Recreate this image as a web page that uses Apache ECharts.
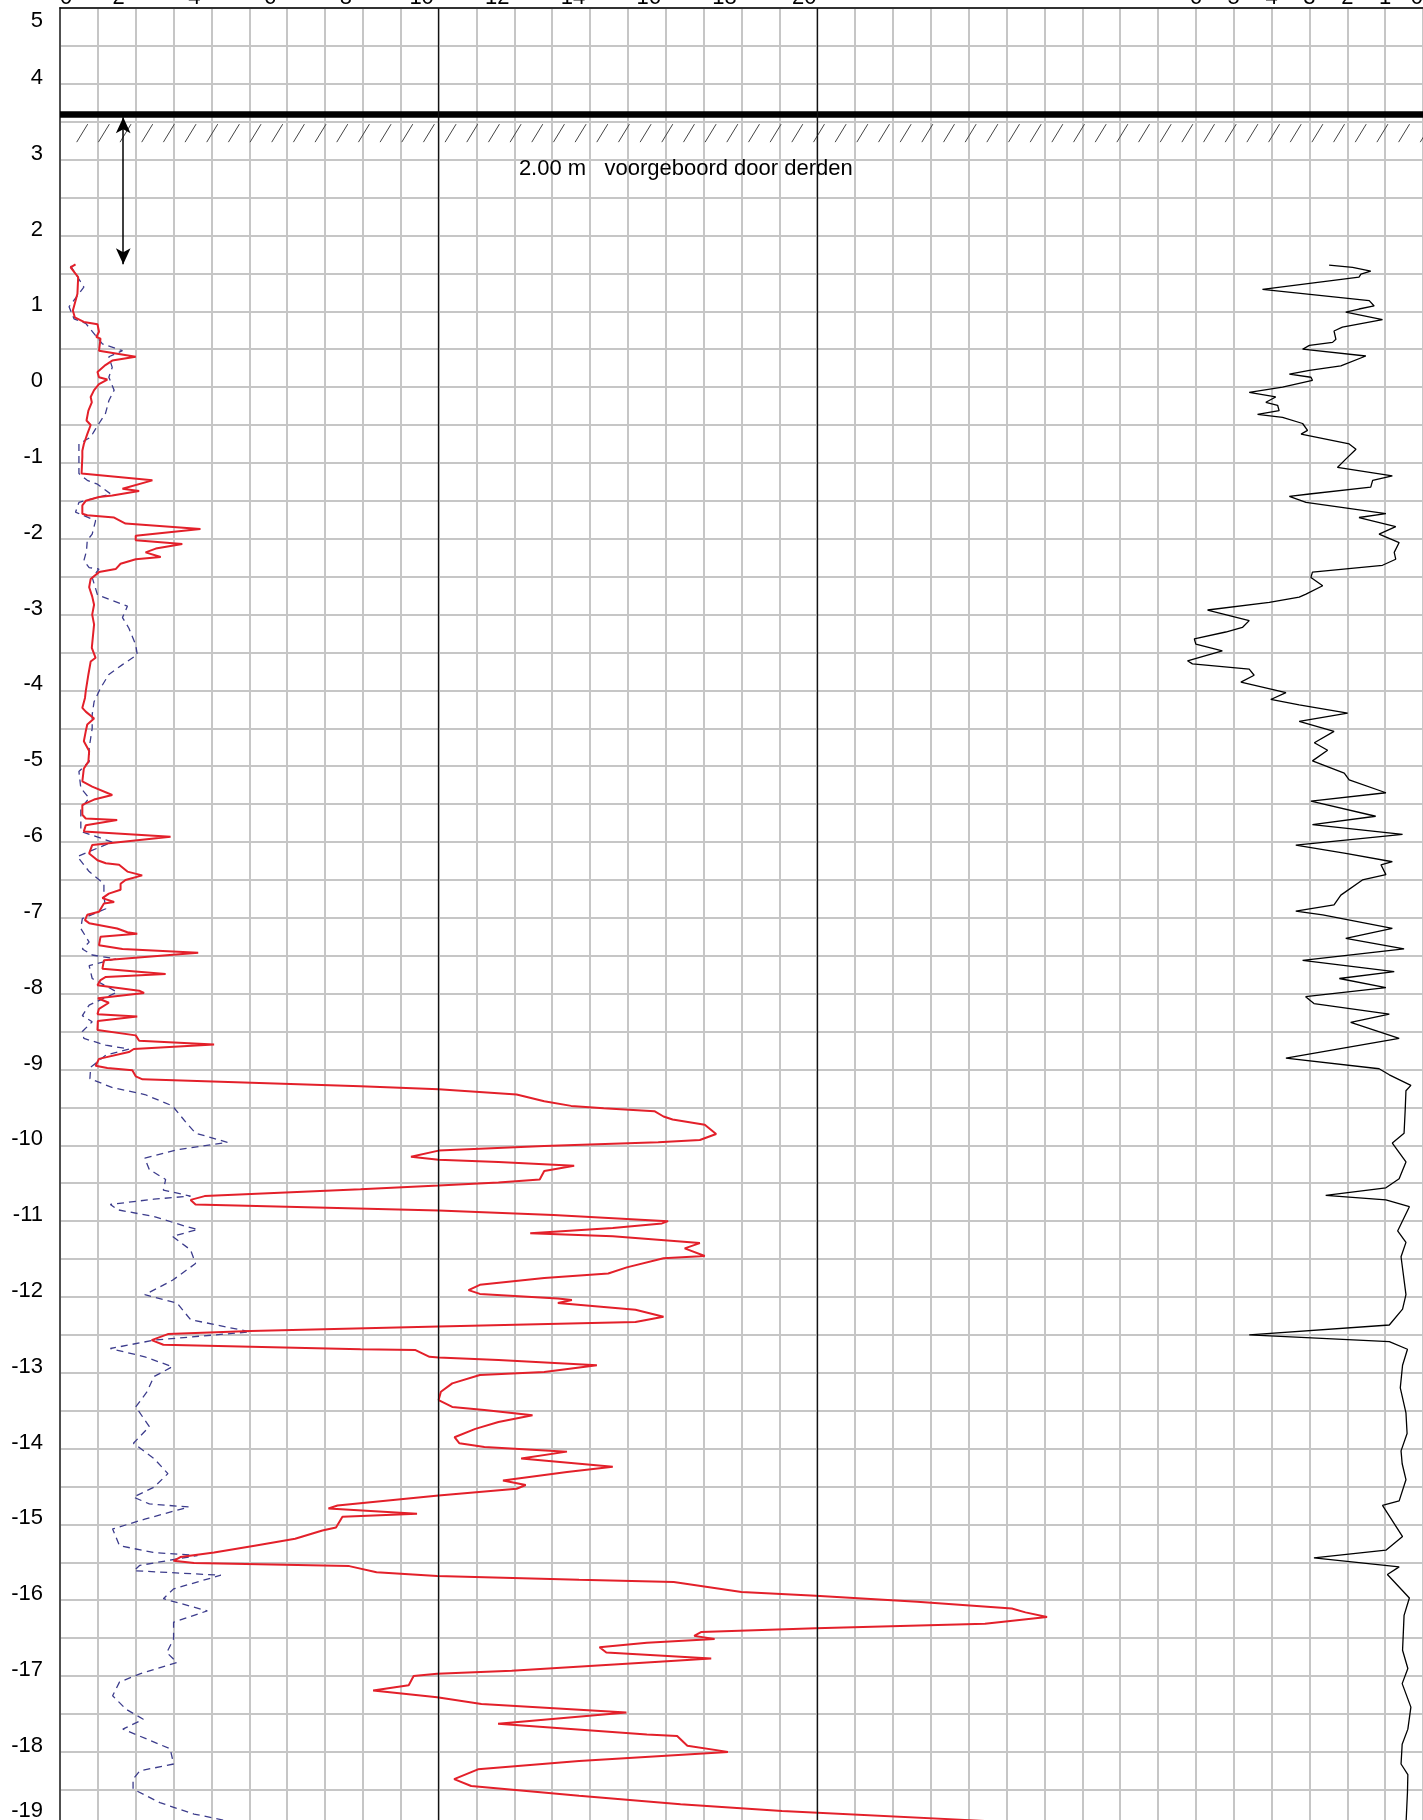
<!DOCTYPE html>
<html>
<head>
<meta charset="utf-8">
<script src="https://cdn.jsdelivr.net/npm/echarts@6/dist/echarts.min.js"></script>
<style>
html,body{margin:0;padding:0;background:#fff;}
#chart{width:1423px;height:1820px;}
</style>
</head>
<body>
<div id="chart"></div>
<script>
// ---- tick labels ----
const depthTicks = [5,4,3,2,1,0,-1,-2,-3,-4,-5,-6,-7,-8,-9,-10,-11,-12,-13,-14,-15,-16,-17,-18,-19];
const qcTicks = [0,2,4,6,8,10,12,14,16,18,20];
const rfTicks = [0,1,2,3,4,5,6];

// ---- annotations ----
const groundLevel = 3.6;
const preDrillTop = 3.56;
const preDrillBottom = 1.62;
const preDrillX = 1.67;
const preDrillText = '2.00 m   voorgeboord door derden';
const preDrillTextPos = [12.12, 2.875];
const refLinesQc = [10, 20];

// ---- cone resistance qc (red) ----
const qcDepth = [1.62,1.58,1.45,1.23,1.01,0.92,0.86,0.83,0.73,0.66,0.64,0.48,0.40,0.35,0.29,0.20,0.13,0.10,0.04,-0.04,-0.13,-0.20,-0.31,-0.44,-0.50,-0.62,-0.75,-0.84,-0.92,-1.14,-1.23,-1.34,-1.37,-1.43,-1.45,-1.50,-1.56,-1.67,-1.69,-1.72,-1.80,-1.87,-1.96,-2.02,-2.07,-2.13,-2.18,-2.24,-2.27,-2.33,-2.40,-2.44,-2.53,-2.64,-2.76,-2.87,-3.0,-3.13,-3.44,-3.57,-3.62,-3.79,-4.01,-4.10,-4.23,-4.28,-4.37,-4.45,-4.54,-4.67,-4.80,-4.94,-5.03,-5.20,-5.27,-5.38,-5.44,-5.51,-5.64,-5.69,-5.71,-5.78,-5.86,-5.93,-6.04,-6.15,-6.24,-6.28,-6.30,-6.39,-6.44,-6.50,-6.55,-6.63,-6.68,-6.74,-6.79,-6.81,-6.92,-6.96,-7.03,-7.07,-7.14,-7.19,-7.21,-7.25,-7.36,-7.41,-7.46,-7.56,-7.67,-7.74,-7.78,-7.82,-7.89,-7.96,-7.99,-8.06,-8.12,-8.20,-8.27,-8.30,-8.36,-8.48,-8.55,-8.62,-8.67,-8.73,-8.77,-8.86,-8.95,-8.98,-9.01,-9.09,-9.13,-9.22,-9.26,-9.33,-9.42,-9.48,-9.51,-9.55,-9.62,-9.66,-9.73,-9.85,-9.93,-9.96,-10.01,-10.07,-10.15,-10.19,-10.22,-10.27,-10.34,-10.45,-10.49,-10.53,-10.58,-10.67,-10.72,-10.78,-10.86,-10.92,-11.0,-11.03,-11.09,-11.16,-11.20,-11.29,-11.36,-11.46,-11.49,-11.61,-11.69,-11.75,-11.84,-11.91,-11.96,-12.02,-12.04,-12.08,-12.17,-12.26,-12.33,-12.39,-12.45,-12.49,-12.57,-12.63,-12.69,-12.70,-12.79,-12.80,-12.83,-12.90,-12.99,-13.03,-13.14,-13.25,-13.36,-13.45,-13.49,-13.56,-13.65,-13.74,-13.85,-13.93,-13.98,-14.04,-14.13,-14.24,-14.31,-14.42,-14.48,-14.53,-14.62,-14.75,-14.79,-14.86,-14.90,-15.04,-15.08,-15.19,-15.28,-15.37,-15.43,-15.48,-15.51,-15.55,-15.63,-15.68,-15.73,-15.76,-15.89,-15.94,-16.02,-16.11,-16.16,-16.22,-16.31,-16.37,-16.42,-16.47,-16.51,-16.56,-16.62,-16.69,-16.77,-16.82,-16.93,-16.97,-17.0,-17.12,-17.19,-17.28,-17.37,-17.48,-17.63,-17.77,-17.79,-17.92,-18.0,-18.12,-18.23,-18.36,-18.45,-18.58,-18.69,-18.78,-18.91];
const qcValue = [0.41,0.28,0.48,0.46,0.34,0.39,0.63,0.99,1.03,0.96,1.07,1.03,2.0,1.38,1.2,0.99,1.03,1.25,1.03,0.9,0.81,0.84,0.75,0.70,0.81,0.72,0.63,0.59,0.59,0.57,2.44,1.65,2.09,1.38,1.03,0.68,0.59,0.59,0.72,1.43,1.73,3.71,2.0,2.0,3.23,2.53,2.26,2.66,2.0,1.6,1.47,1.03,0.81,0.77,0.85,0.9,0.85,0.9,0.84,0.94,0.81,0.75,0.68,0.66,0.59,0.68,0.9,0.72,0.68,0.63,0.77,0.75,0.63,0.59,0.85,1.38,0.9,0.59,0.59,0.68,1.51,0.68,0.63,2.92,0.85,0.77,0.99,1.21,1.56,1.78,2.17,1.73,1.6,1.6,1.29,1.12,1.43,1.16,1.03,0.72,0.66,0.77,1.51,1.78,2.04,1.07,1.03,1.65,3.65,1.16,1.12,2.79,1.21,1.07,0.99,2.09,2.22,1.0,1.29,1.03,0.99,2.04,1.0,0.99,2.0,2.09,4.07,1.95,1.82,1.03,0.94,1.25,1.91,2.0,2.18,7.94,10.0,12.06,12.79,13.5,14.36,15.7,15.94,16.18,17.03,17.33,16.9,15.8,12.79,10.0,9.27,10.0,11.58,13.58,12.79,12.67,11.58,10.0,7.94,3.82,3.45,3.58,10.0,13.03,16.06,15.9,14.6,12.42,14.6,16.9,16.5,17.03,15.94,14.97,14.48,12.79,11.09,10.79,11.09,13.15,13.52,13.15,15.2,15.94,15.2,10.0,5.03,2.85,2.42,2.73,7.94,9.39,9.76,10.0,11.58,14.18,12.79,11.09,10.36,10.06,10.0,10.36,11.21,12.48,11.58,10.97,10.42,10.55,11.21,13.39,12.18,14.6,13.39,11.7,12.3,12.06,10.0,7.33,7.09,9.43,7.46,7.29,6.93,6.21,5.14,4.07,3.18,3.0,3.54,7.64,8.36,9.96,13.71,16.21,18.0,19.96,22.64,25.14,25.5,26.07,24.43,19.96,16.93,16.75,17.29,15.5,14.25,14.43,17.2,15.5,11.93,9.96,9.34,9.21,8.27,9.96,11.13,14.96,11.57,15.5,16.3,16.57,17.64,13.71,11.04,10.41,10.86,13.71,16.39,19.07,24.43];

// ---- sleeve friction (blue dashed) ----
const fsDepth = [1.6,1.32,1.06,0.9,0.84,0.57,0.48,0.4,0.26,0.13,-0.04,-0.18,-0.35,-0.48,-0.55,-0.66,-0.75,-1.14,-1.23,-1.28,-1.41,-1.52,-1.65,-1.76,-1.94,-2.02,-2.16,-2.29,-2.38,-2.4,-2.51,-2.74,-2.89,-3.04,-3.18,-3.4,-3.53,-3.66,-3.79,-3.97,-4.15,-4.32,-4.5,-4.76,-4.94,-5.07,-5.29,-5.42,-5.56,-5.86,-6.0,-6.19,-6.39,-6.55,-6.72,-6.88,-7.01,-7.14,-7.32,-7.41,-7.49,-7.54,-7.63,-7.8,-7.98,-8.15,-8.29,-8.37,-8.5,-8.59,-8.68,-8.73,-8.81,-8.97,-9.12,-9.24,-9.33,-9.48,-9.7,-9.84,-9.96,-10.06,-10.17,-10.32,-10.45,-10.59,-10.67,-10.71,-10.78,-10.85,-10.94,-11.07,-11.11,-11.2,-11.38,-11.56,-11.78,-11.97,-12.08,-12.3,-12.46,-12.57,-12.68,-12.79,-12.92,-13.05,-13.25,-13.45,-13.71,-13.93,-14.13,-14.33,-14.51,-14.64,-14.73,-14.77,-14.93,-15.06,-15.28,-15.37,-15.41,-15.54,-15.61,-15.67,-15.85,-15.98,-16.14,-16.29,-16.51,-16.69,-16.82,-16.97,-17.08,-17.26,-17.44,-17.57,-17.7,-17.83,-17.96,-18.16,-18.25,-18.36,-18.49,-18.67,-18.82,-18.93];
const fsValue = [0.28,0.63,0.24,0.37,0.68,1.12,1.65,1.29,1.38,1.29,1.43,1.29,1.2,1.03,0.94,0.81,0.5,0.5,0.72,0.99,1.34,0.5,0.41,0.94,0.85,0.72,0.7,0.63,0.77,1.03,0.85,0.99,1.78,1.65,1.82,2.0,2.04,1.65,1.29,1.07,0.9,0.85,0.85,0.77,0.77,0.5,0.55,0.77,0.55,0.55,1.38,0.46,0.77,1.16,1.16,1.21,0.59,0.55,0.77,0.59,0.85,1.47,0.77,0.85,1.51,0.77,0.59,0.85,0.59,0.63,1.21,1.82,1.21,0.81,0.79,1.39,2.24,2.97,3.33,3.58,4.42,3.09,2.24,2.36,2.79,2.73,3.45,2.48,1.33,1.52,2.48,3.33,3.64,2.97,3.45,3.58,2.97,2.24,3.09,3.45,5.03,2.48,1.33,2.24,2.97,2.48,2.3,2.0,2.36,1.94,2.48,2.85,2.48,1.94,2.36,3.4,2.24,1.39,1.57,2.46,3.63,2.11,1.95,4.25,3.0,2.73,3.89,3.0,3.0,2.82,3.09,2.11,1.57,1.39,1.75,2.2,1.66,2.29,2.91,3.0,2.11,1.93,1.93,2.64,3.54,4.61];

// ---- friction ratio Rf (black, right) ----
const rfDepth = [1.61,1.58,1.53,1.49,1.45,1.29,1.14,1.07,1.03,0.99,0.89,0.79,0.74,0.63,0.59,0.55,0.5,0.41,0.28,0.22,0.17,0.13,0.09,0.0,-0.07,-0.13,-0.2,-0.24,-0.31,-0.36,-0.4,-0.48,-0.57,-0.62,-0.75,-0.82,-0.95,-1.06,-1.17,-1.23,-1.32,-1.41,-1.44,-1.52,-1.67,-1.72,-1.84,-1.94,-2.05,-2.18,-2.27,-2.35,-2.44,-2.51,-2.62,-2.73,-2.77,-2.84,-2.94,-3.08,-3.17,-3.23,-3.32,-3.39,-3.48,-3.61,-3.65,-3.72,-3.8,-3.89,-4.03,-4.12,-4.19,-4.3,-4.41,-4.54,-4.69,-4.79,-4.93,-5.09,-5.18,-5.35,-5.46,-5.66,-5.77,-5.9,-6.04,-6.15,-6.26,-6.3,-6.43,-6.5,-6.7,-6.83,-6.91,-6.96,-7.14,-7.27,-7.41,-7.56,-7.71,-7.8,-7.92,-8.04,-8.13,-8.27,-8.38,-8.59,-8.85,-8.99,-9.07,-9.21,-9.28,-9.53,-9.84,-9.97,-10.22,-10.44,-10.56,-10.66,-10.72,-10.81,-11.13,-11.28,-11.47,-11.97,-12.16,-12.37,-12.5,-12.59,-12.69,-12.9,-13.2,-13.53,-13.8,-14.03,-14.2,-14.41,-14.69,-14.75,-15.16,-15.34,-15.44,-15.56,-15.66,-15.97,-16.2,-16.66,-16.9,-17.1,-17.41,-17.7,-17.9,-18.16,-18.3,-18.53,-18.96];
const rfValue = [2.48,1.86,1.38,1.64,1.69,4.24,1.42,1.29,1.69,2.04,1.07,2.13,2.35,2.3,2.39,3.0,3.18,1.51,2.17,3.0,3.53,2.96,2.92,3.71,4.59,3.89,4.15,3.84,3.8,4.37,3.71,3.18,3.05,3.22,1.95,1.77,2.04,2.26,0.81,1.33,1.38,3.0,3.53,3.09,0.98,1.69,0.72,1.16,0.63,0.76,0.72,1.07,2.92,2.96,2.65,3.09,3.27,4.06,5.69,4.59,4.77,5.21,6.04,6.0,5.3,6.22,6.09,4.59,4.46,4.81,3.62,4.02,3.27,1.99,3.27,2.35,2.87,2.52,2.92,2.08,1.95,0.98,2.96,1.25,2.92,0.54,3.36,2.04,0.81,1.11,0.98,1.6,2.17,2.35,3.36,2.65,0.81,2.04,0.5,3.18,0.76,2.21,0.98,3.1,2.88,0.89,1.91,0.63,3.62,1.16,0.89,0.32,0.45,0.47,0.5,0.81,0.45,0.63,0.98,2.57,0.98,0.36,0.67,0.45,0.58,0.45,0.54,0.89,4.59,0.89,0.41,0.54,0.6,0.45,0.42,0.58,0.55,0.45,0.63,1.07,0.54,0.98,2.88,0.63,0.94,0.36,0.5,0.54,0.4,0.55,0.32,0.4,0.55,0.58,0.4,0.41,0.45];

function pairs(xs, ds) { return xs.map((v, i) => [v, ds[i]]); }

const FONT = '"Liberation Sans", Arial, sans-serif';
const GRID = {left: 60, top: 8, width: 1363, height: 1819.7, containLabel: false, outerBoundsMode: 'none'};

const chart = echarts.init(document.getElementById('chart'), null, {renderer: 'canvas'});

const option = {
  animation: false,
  backgroundColor: '#ffffff',
  textStyle: {fontFamily: FONT},
  grid: [
    Object.assign({}, GRID),
    Object.assign({}, GRID)
  ],
  xAxis: [
    {
      gridIndex: 0, type: 'value', position: 'top', min: 0, max: 36, interval: 1,
      axisLine: {show: true, onZero: false, lineStyle: {color: '#000', width: 1.5}},
      axisTick: {show: false},
      splitLine: {show: true, lineStyle: {color: '#c6c6c6', width: 2}},
      axisLabel: {
        show: true, margin: 2, fontSize: 22, lineHeight: 16, color: '#000', fontFamily: FONT,
        alignMinLabel: 'left',
        formatter: function (v) {
          if (qcTicks.indexOf(v) < 0) return '';
          if (v === 0) return '0';
          if (v === 20) return '{c|20}';
          return '{b|' + v + '}';
        },
        rich: {
          b: {fontSize: 22, lineHeight: 16, color: '#000', fontFamily: FONT, padding: [0, 34, 0, 0]},
          c: {fontSize: 22, lineHeight: 16, color: '#000', fontFamily: FONT, padding: [0, 26, 0, 0]}
        }
      }
    },
    {
      gridIndex: 1, type: 'value', position: 'top', min: 0, max: 36, interval: 1, inverse: true,
      axisLine: {show: false, onZero: false}, axisTick: {show: false}, splitLine: {show: false},
      axisLabel: {
        show: true, margin: 2, fontSize: 22, lineHeight: 16, color: '#000', fontFamily: FONT,
        alignMinLabel: 'right',
        formatter: function (v) { return rfTicks.indexOf(v) >= 0 ? String(v) : ''; }
      }
    }
  ],
  yAxis: [
    {
      gridIndex: 0, type: 'value', min: -19, max: 5, interval: 0.5,
      axisLine: {show: true, onZero: false, lineStyle: {color: '#505050', width: 2}},
      axisTick: {show: false},
      splitLine: {show: true, lineStyle: {color: '#c6c6c6', width: 2}},
      axisLabel: {
        show: true, margin: 17, fontSize: 22, lineHeight: 12, color: '#000', fontFamily: FONT,
        verticalAlign: 'bottom', verticalAlignMaxLabel: 'top',
        formatter: function (v) {
          if (depthTicks.indexOf(v) < 0) return '';
          if (v === depthTicks[0]) return '{t|' + v + '}';
          if (v === depthTicks[depthTicks.length - 1]) return '{m|' + v + '}';
          return String(v);
        },
        rich: {
          t: {fontSize: 22, lineHeight: 26, color: '#000', fontFamily: FONT},
          m: {fontSize: 22, lineHeight: 34, color: '#000', fontFamily: FONT}
        }
      }
    },
    {
      gridIndex: 1, type: 'value', min: -19, max: 5, interval: 0.5, show: false,
      axisLine: {onZero: false},
      splitLine: {show: false}
    }
  ],
  series: [
    {
      name: 'hatch', type: 'custom', xAxisIndex: 0, yAxisIndex: 0, z: 1, silent: true,
      data: [[0, groundLevel]],
      renderItem: function (params, api) {
        const cs = params.coordSys;
        const y0 = api.coord([0, groundLevel])[1];
        const children = [];
        for (let x = cs.x + 16.7; x < cs.x + cs.width; x += 21.67) {
          children.push({type: 'line', shape: {x1: x, y1: y0 + 28, x2: x + 11, y2: y0 + 10},
            style: {stroke: '#444', lineWidth: 1}});
        }
        return {type: 'group', children: children};
      }
    },
    {
      name: 'fs', type: 'line', xAxisIndex: 0, yAxisIndex: 0, z: 3,
      data: pairs(fsValue, fsDepth), showSymbol: false, symbol: 'none', smooth: false,
      lineStyle: {color: '#3c3c8c', width: 1.3, type: [7, 5]}
    },
    {
      name: 'qc', type: 'line', xAxisIndex: 0, yAxisIndex: 0, z: 4,
      data: pairs(qcValue, qcDepth), showSymbol: false, symbol: 'none', smooth: false,
      lineStyle: {color: '#e3202a', width: 2},
      markLine: {
        silent: true, symbol: 'none', animation: false, label: {show: false},
        data: [
          {yAxis: groundLevel, lineStyle: {color: '#000', width: 6.5, type: 'solid'}},
          {xAxis: refLinesQc[0], lineStyle: {color: '#111', width: 1.3, type: 'solid'}},
          {xAxis: refLinesQc[1], lineStyle: {color: '#111', width: 1.3, type: 'solid'}}
        ]
      }
    },
    {
      name: 'predrill', type: 'line', xAxisIndex: 0, yAxisIndex: 0, z: 5,
      data: [[preDrillX, preDrillTop], [preDrillX, preDrillBottom]],
      showSymbol: false, symbol: 'none', lineStyle: {opacity: 0},
      markLine: {
        silent: true, animation: false, symbol: ['arrow', 'arrow'], symbolSize: [11, 16],
        label: {show: false},
        lineStyle: {color: '#000', width: 1.5, type: 'solid'},
        data: [[{coord: [preDrillX, preDrillTop]}, {coord: [preDrillX, preDrillBottom]}]]
      },
      markPoint: {
        silent: true, animation: false, symbol: 'circle', symbolSize: 0,
        label: {show: true, position: 'right', distance: 0, formatter: preDrillText,
          fontSize: 22, color: '#000', fontFamily: FONT},
        data: [{coord: preDrillTextPos}]
      }
    },
    {
      name: 'Rf', type: 'line', xAxisIndex: 1, yAxisIndex: 1, z: 4,
      data: pairs(rfValue, rfDepth), showSymbol: false, symbol: 'none', smooth: false,
      lineStyle: {color: '#000', width: 1.3}
    }
  ]
};
chart.setOption(option);
</script>
</body>
</html>
